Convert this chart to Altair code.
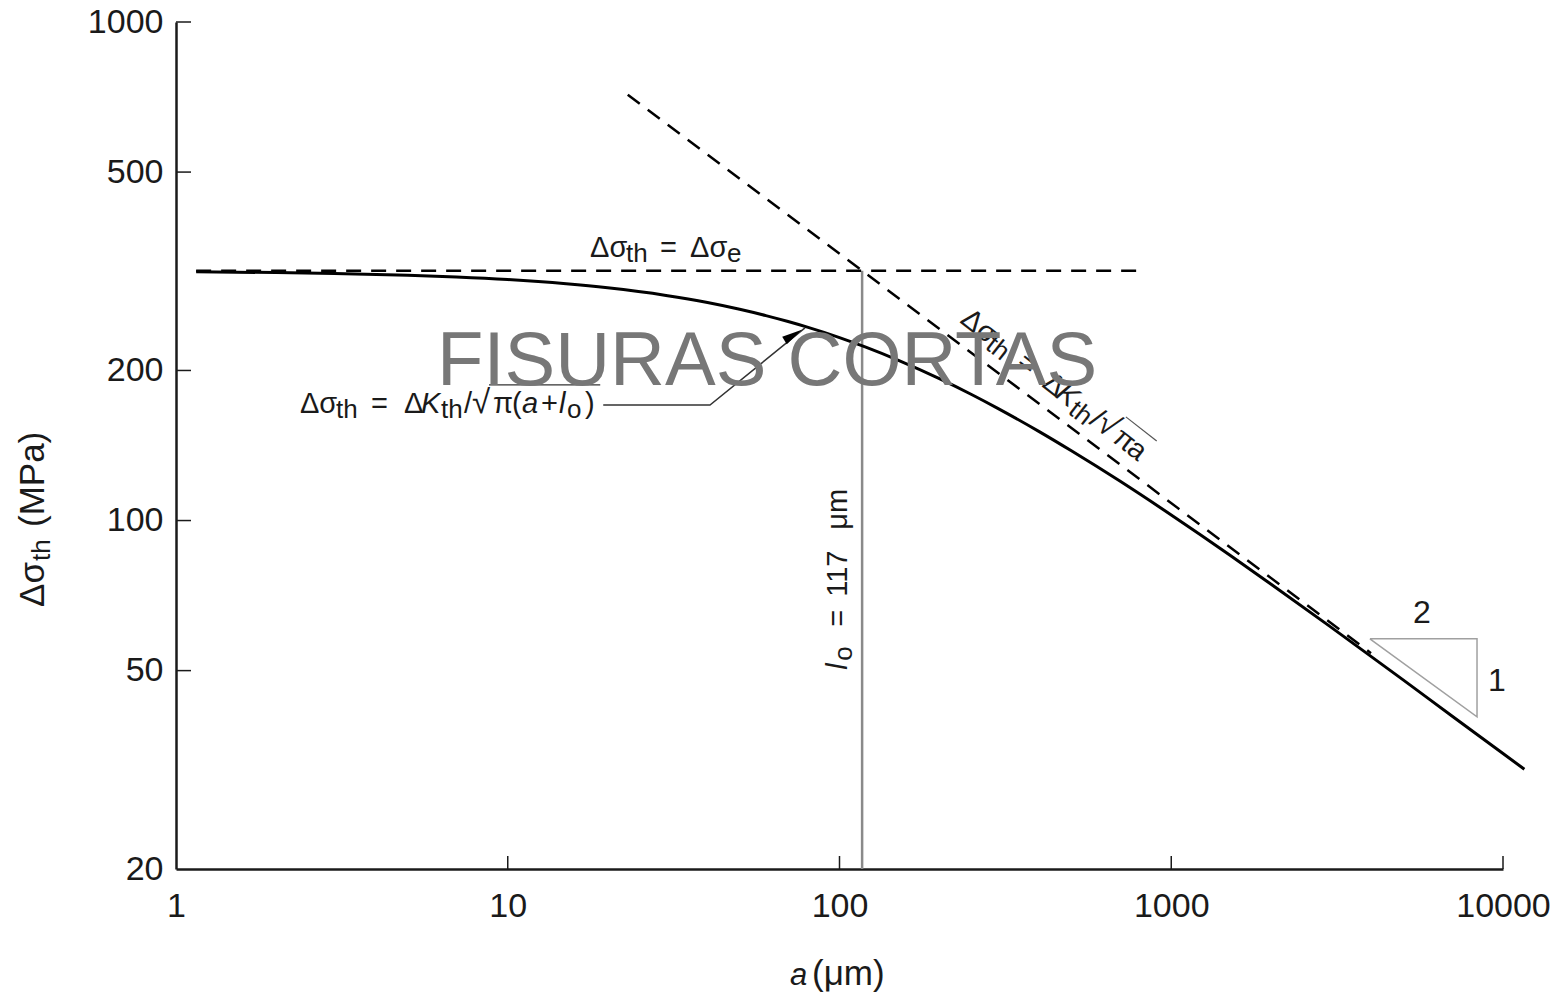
import altair as alt
import pandas as pd

FONT = "Liberation Sans"
INK = "#1a1a1a"

# ---- data ----
curve_a = [1.15, 2, 3, 5, 7, 10, 15, 20, 30, 40, 50, 60, 70, 80, 100, 120, 150, 200, 250, 300,
           400, 500, 700, 1000, 1500, 2000, 3000, 5000, 7000, 10000, 11600]
curve_s = [315.5, 314.3, 313.0, 310.4, 307.9, 304.3, 298.4, 292.9, 282.8, 273.7, 265.3, 257.7,
           250.7, 244.3, 232.8, 222.7, 209.8, 192.6, 179.0, 167.9, 150.8, 138.0, 120.0, 102.6,
           85.3, 74.5, 61.4, 47.9, 40.6, 34.1, 31.7]

endur_a = [1.15, 830]
endur_s = [317, 317]

lefm_a = [23, 4000]
lefm_s = [715, 54.2]

l0_a = [117, 117]
l0_s = [20, 317]

tri_a = [3970, 8350, 8350, 3970]
tri_s = [57.9, 57.9, 40.4, 57.9]

leader_a = [19.4, 40.7, 78.7]
leader_s = [170.5, 170.5, 243.4]

arrow_a = [72.5]
arrow_s = [235.5]

vinc1_a = [8.78, 19.0]
vinc1_s = [187.1, 187.1]

vinc2_a = [729.8, 903.9]
vinc2_s = [161.4, 144.4]

x_ticks = [10, 100, 1000, 10000]
y_ticks = [50, 100, 200, 500, 1000]
x_labels = [1, 10, 100, 1000, 10000]
y_labels = [20, 50, 100, 200, 500, 1000]

W, H = 1327, 847

xscale = alt.Scale(type="log", domain=[1, 10000], nice=False)
yscale = alt.Scale(type="log", domain=[20, 1000], nice=False)

x_axis = alt.Axis(values=x_labels, format="d", grid=False, ticks=False, labelFlush=False,
                  labelFontSize=34, labelFont=FONT, labelColor=INK, labelPadding=20,
                  domainColor=INK, domainWidth=2.5, title=None, labelOverlap=False)
y_axis = alt.Axis(values=y_labels, format="d", grid=False, ticks=False,
                  labelFontSize=34, labelFont=FONT, labelColor=INK, labelPadding=13,
                  domainColor=INK, domainWidth=2.5, title=None, labelOverlap=False)

X = alt.X("a:Q", scale=xscale, axis=x_axis)
Y = alt.Y("s:Q", scale=yscale, axis=y_axis)


def df(a, s):
    return pd.DataFrame({"a": a, "s": s, "i": list(range(len(a)))})


def path(a, s, **kw):
    return alt.Chart(df(a, s)).mark_line(**kw).encode(x=X, y=Y, order="i:Q")


curve = path(curve_a, curve_s, color="#000", strokeWidth=3, interpolate="monotone")
endur = path(endur_a, endur_s, color="#000", strokeWidth=2.5, strokeDash=[15, 10])
lefm = path(lefm_a, lefm_s, color="#000", strokeWidth=2.5, strokeDash=[15, 10])
l0 = path(l0_a, l0_s, color="#8a8a8a", strokeWidth=2.5)
tri = path(tri_a, tri_s, color="#a0a0a0", strokeWidth=1.5)
leader = path(leader_a, leader_s, color="#333", strokeWidth=1.5)
vinc1 = path(vinc1_a, vinc1_s, color="#333", strokeWidth=1.3)
vinc2 = path(vinc2_a, vinc2_s, color="#555", strokeWidth=1.2)

arrow = alt.Chart(df(arrow_a, arrow_s)).mark_point(
    shape="M0,-1L0.42,1L-0.42,1Z", filled=True, color="#000", size=420, angle=58, opacity=1
).encode(x=X, y=Y)

xt = alt.Chart(pd.DataFrame({"a": x_ticks})).mark_rule(color=INK, strokeWidth=1.5).encode(
    x=X, y=alt.value(H), y2=alt.value(H - 13))
yt = alt.Chart(pd.DataFrame({"s": y_ticks})).mark_rule(color=INK, strokeWidth=1.5).encode(
    y=Y, x=alt.value(0), x2=alt.value(15))


def rich(pieces, a=None, s=None, px=None, py=None, angle=0, size=29, sub=26, color=INK):
    """pieces: (text, along, drop, style[, size]); offsets are in the text's own frame."""
    layers = []
    for text, along, drop, style, *rest in pieces:
        fs = rest[0] if rest else (sub if style == "s" else size)
        kw = dict(font=FONT, fontSize=fs, color=color, align="left", baseline="alphabetic",
                  dx=along, dy=drop)
        if angle:
            kw["angle"] = angle
        if style == "i":
            kw["fontStyle"] = "italic"
        if a is not None:
            d = pd.DataFrame({"a": [a], "s": [s], "t": [text]})
            enc = dict(x=X, y=Y, text="t:N")
        else:
            d = pd.DataFrame({"t": [text]})
            enc = dict(x=alt.value(px), y=alt.value(py), text="t:N")
        layers.append(alt.Chart(d).mark_text(**kw).encode(**enc))
    return layers


texts = []
# Δσth = Δσe
texts += rich([("Δσ", 0, 0, "n"), ("th", 36, 5, "s"), ("=", 70, 0, "n"),
               ("Δσ", 100, 0, "n"), ("e", 137, 5, "s")], a=17.7, s=337.9)
# Δσth = ΔKth/√π(a+lo)
texts += rich([("Δσ", 0, 0, "n"), ("th", 36, 5, "s"), ("=", 71, 0, "n"),
               ("Δ", 104, 0, "n"), ("K", 121, 0, "i"), ("th", 141, 5, "s"),
               ("/", 164, 0, "n"), ("√", 172, 0, "n", 33), ("π", 193, 0, "n"),
               ("(", 212, 0, "n"), ("a", 222, 0, "i"), ("+", 241, 0, "n"),
               ("l", 259, 0, "i"), ("o", 267, 5, "s"), (")", 285, 0, "n")],
              a=2.364, s=164.4)
# rotated Δσth = ΔKth/√πa
texts += rich([("Δσ", 0, 0, "n"), ("th", 36, 5, "s"), ("=", 71, 0, "n"),
               ("Δ", 104, 0, "n"), ("K", 121, 0, "i"), ("th", 141, 5, "s"),
               ("/", 164, 0, "n"), ("√", 172, 0, "n", 33), ("π", 193, 0, "n"),
               ("a", 211, 0, "n")], a=229.2, s=250.2, angle=38)
# lo = 117 µm
texts += rich([("l", 0, 0, "i"), ("o", 9, 5, "s"), ("=", 43, 0, "n"),
               ("117", 73, 0, "n"), ("μm", 140, 0, "n")], a=105.3, s=50.2, angle=270)
# slope triangle
texts += rich([("2", -9, 11, "n", 32)], a=5699, s=65.6)
texts += rich([("1", -9, 11, "n", 32)], a=9594, s=47.9)
# watermark
wm = alt.Chart(pd.DataFrame({"a": [60.5], "s": [208], "t": ["FISURAS CORTAS"]})).mark_text(
    font=FONT, fontSize=76, color="#777777", align="center", baseline="middle"
).encode(x=X, y=Y, text="t:N")
# axis titles
texts += rich([("a", 0, 0, "i", 31), ("(μm)", 22, 0, "n", 35)], px=614, py=963)
texts += rich([("Δσ", 0, 0, "n", 35), ("th", 46, 6, "s", 26), ("(MPa)", 80, 0, "n", 35)],
              px=-132, py=585, angle=270)

chart = alt.layer(
    l0, tri, endur, lefm, curve, leader, arrow, vinc1, vinc2, xt, yt, *texts, wm
).properties(
    width=W, height=H, background="white",
    padding={"left": 168, "top": 14, "right": 48, "bottom": 125},
    autosize=alt.AutoSizeParams(type="none"),
).configure_view(stroke=None)

chart.save("out.html", embed_options={"renderer": "svg", "actions": False})
